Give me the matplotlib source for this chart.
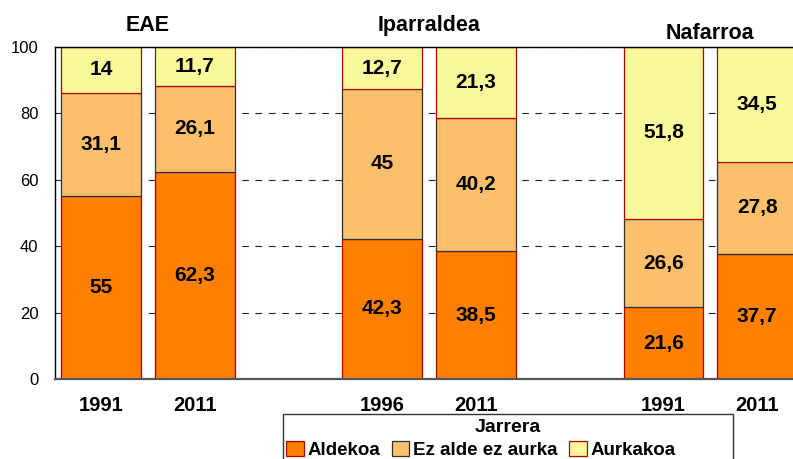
# Jarrera stacked bars by region and year

import numpy as np
import matplotlib.pyplot as plt
from matplotlib.patches import Rectangle

plt.rcParams['font.family'] = ['Liberation Sans', 'DejaVu Sans']

# Data
regions = ['EAE', 'Iparraldea', 'Nafarroa']
years = ['1991', '2011', '1996', '2011', '1991', '2011']
aldekoa = [55, 62.3, 42.3, 38.5, 21.6, 37.7]
ez_alde = [31.1, 26.1, 45, 40.2, 26.6, 27.8]
aurkakoa = [14, 11.7, 12.7, 21.3, 51.8, 34.5]
series_names = ['Aldekoa', 'Ez alde ez aurka', 'Aurkakoa']

# bar positions: pairs with a gap between regions
pos = np.array([0, 1, 3, 4, 6, 7])

fig = plt.figure(figsize=(7.93, 4.59), dpi=100)
ax = fig.add_axes([55/793, 80/459, 765/793, 332/459])

colors = ['#FF8000', '#FCBF6C', '#F9F99B']
edges = ['#B00000', '#303030', '#B00000']
width = 0.85

bottom = np.zeros(len(pos))
bars = []
for vals, name, c, e in zip([aldekoa, ez_alde, aurkakoa], series_names, colors, edges):
    vals = np.array(vals)
    b = ax.bar(pos, vals, width, bottom=bottom, color=c, edgecolor=e,
               linewidth=0.9, label=name, zorder=2)
    bars.append(b)
    for x, v, y0 in zip(pos, vals, bottom):
        txt = ('%g' % v).replace('.', ',')
        ax.text(x, y0 + v/2, txt, ha='center', va='center',
                fontsize=15, fontweight='bold', zorder=3)
    bottom += vals

# region titles
title_y = [106.6, 106.6, 104.2]
for i, r in enumerate(regions):
    xc = (pos[2*i] + pos[2*i+1]) / 2
    ax.text(xc, title_y[i], r, ha='center', va='center', fontsize=15.5,
            fontweight='bold', clip_on=False)

ax.set_xlim(-0.49, 7.67)
ax.set_ylim(0, 100)
ax.set_yticks([0, 20, 40, 60, 80, 100])
ax.tick_params(axis='y', length=0, pad=12, labelsize=12)
ax.set_xticks(pos)
ax.set_xticklabels(years, fontsize=14.5, fontweight='bold')
ax.tick_params(axis='x', length=0, pad=12)

ax.yaxis.grid(True, linestyle=(0, (6, 6)), color='#222222', linewidth=0.8)
ax.set_axisbelow(True)

for s in ['left', 'top']:
    ax.spines[s].set_color('black')
    ax.spines[s].set_linewidth(1.0)
ax.spines['right'].set_visible(False)
ax.spines['bottom'].set_color('#555555')
ax.spines['bottom'].set_linewidth(1.6)

# legend box and title drawn separately (box wider than entries)
fig.patches.append(Rectangle((283/793, -0.05), 450/793, 0.05 + 45/459,
                             transform=fig.transFigure, fill=False,
                             edgecolor='#333333', linewidth=1.0))
fig.text(508/793, 1 - 427/459, 'Jarrera', ha='center', va='center',
         fontsize=14, fontweight='bold')

leg = fig.legend(handles=bars, labels=series_names, ncol=3,
                 loc='center left', bbox_to_anchor=(286/793, 1 - 450/459),
                 fontsize=13.5, frameon=False, borderpad=0, borderaxespad=0,
                 handlelength=0.95, handleheight=0.8, handletextpad=0.2,
                 columnspacing=0.6)
for t in leg.get_texts():
    t.set_fontweight('bold')

fig.savefig('out.png', dpi=100)
